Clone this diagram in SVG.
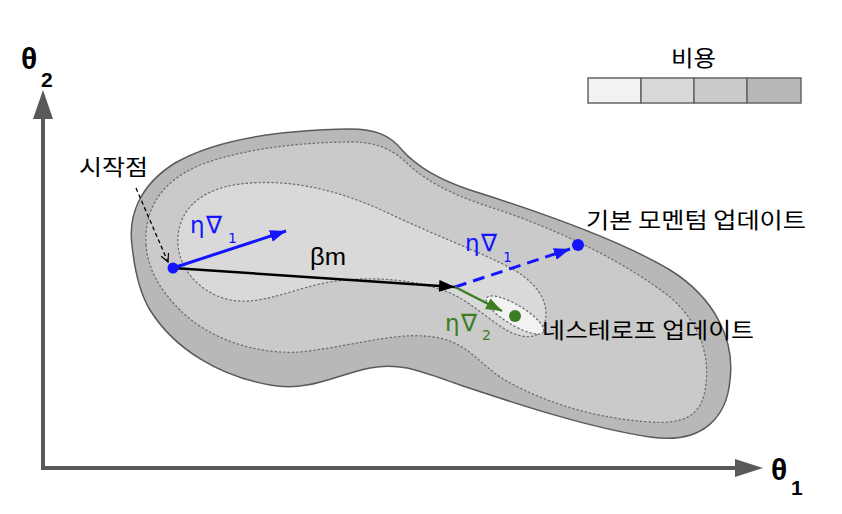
<svg xmlns="http://www.w3.org/2000/svg" width="842" height="514" viewBox="0 0 842 514">
<style>
.ko{font-family:"Noto Sans CJK KR","Liberation Sans",sans-serif;font-size:22px;fill:#000}
.gr{font-family:"DejaVu Sans","Liberation Sans",sans-serif;font-size:24px}
.eta{font-size:23px}
.sub{font-size:14px}
.ax{font-family:"Liberation Sans",Arial,sans-serif;font-weight:bold;fill:#000}
.dot{stroke:#6e6e6e;stroke-width:1.3;stroke-dasharray:1.3 3;stroke-linecap:round}
.cell{stroke:#666;stroke-width:1.5}
</style>
<defs>
<marker id="mb" markerUnits="userSpaceOnUse" markerWidth="18" markerHeight="14" refX="16" refY="6" orient="auto"><path d="M0,0 L16,6 L0,12 Z" fill="#1414ff"/></marker>
<marker id="mk" markerUnits="userSpaceOnUse" markerWidth="18" markerHeight="14" refX="16" refY="6" orient="auto"><path d="M0,0 L16,6 L0,12 Z" fill="#000"/></marker>
<marker id="mg" markerUnits="userSpaceOnUse" markerWidth="18" markerHeight="14" refX="16" refY="6" orient="auto"><path d="M0,0 L16,6 L0,12 Z" fill="#3b7d23"/></marker>
<marker id="mo" markerUnits="userSpaceOnUse" markerWidth="10" markerHeight="10" refX="8" refY="4" orient="auto"><path d="M0,0 L8,4 L0,8" fill="none" stroke="#000" stroke-width="1.2"/></marker>
</defs>
<rect width="842" height="514" fill="#fff"/>

<g id="cost-surface">
<path d="M132,245 C128,215 140,185 175,163 C215,140 280,130 350,129 C375,129 390,135 402,150 C418,168 440,180 470,190 C540,212 620,240 670,270 C715,298 735,340 730,380 C727,415 705,445 650,437 C590,428 520,405 460,385 C420,371 400,362 370,368 C335,375 310,392 270,385 C220,376 175,350 150,310 C138,290 134,265 132,245 Z" fill="#b8b8b8" stroke="#5a5a5a" stroke-width="1.5"/>
<path class="dot" d="M146,245 C144,210 160,182 200,165 C245,148 305,142 352,142 C380,142 396,152 410,166 C428,182 455,196 490,207 C560,230 625,262 670,297 C702,325 712,360 704,395 C698,418 680,424 650,422 C590,418 540,400 505,380 C480,365 470,345 440,338 C400,330 360,345 300,352 C250,355 205,335 180,310 C160,290 148,270 146,245 Z" fill="#cacaca"/>
<path class="dot" d="M178,245 C176,215 195,190 240,184 C290,178 340,190 390,214 C430,233 470,248 505,265 C535,280 550,300 545,322 C542,337 530,340 512,333 C490,322 470,300 445,291 C410,278 360,275 320,284 C285,292 260,305 230,300 C200,293 180,270 178,245 Z" fill="#d9d9d9"/>
<ellipse class="dot" cx="515" cy="315" rx="33" ry="10" transform="rotate(31 515 315)" fill="#f2f2f2"/>
</g>

<g id="axes">
<line x1="43" y1="470" x2="43" y2="115" stroke="#595959" stroke-width="4"/>
<polygon points="43,90 33,119 53,119" fill="#595959"/>
<line x1="41" y1="468" x2="738" y2="468" stroke="#595959" stroke-width="4"/>
<polygon points="763,468 735,459 735,477" fill="#595959"/>
<text class="ax" x="21" y="69" font-size="30">θ</text>
<text class="ax" x="41" y="87" font-size="21">2</text>
<text class="ax" x="771" y="480" font-size="30">θ</text>
<text class="ax" x="791" y="495" font-size="21">1</text>
</g>

<g id="legend">
<text class="ko" x="671" y="66" textLength="45" lengthAdjust="spacingAndGlyphs">비용</text>
<rect class="cell" x="588" y="78" width="53" height="25" fill="#f2f2f2"/>
<rect class="cell" x="641" y="78" width="53" height="25" fill="#d9d9d9"/>
<rect class="cell" x="694" y="78" width="53" height="25" fill="#cacaca"/>
<rect class="cell" x="747" y="78" width="54" height="25" fill="#b8b8b8"/>
</g>

<g id="connectors">
<line x1="136" y1="188" x2="168" y2="262" stroke="#000" stroke-width="1.3" stroke-dasharray="4 3" marker-end="url(#mo)"/>
<line x1="173" y1="268" x2="455" y2="287" stroke="#000" stroke-width="2.5" marker-end="url(#mk)"/>
<line x1="173" y1="268" x2="286" y2="231" stroke="#1414ff" stroke-width="3" marker-end="url(#mb)"/>
<line x1="455" y1="287" x2="570" y2="249" stroke="#1414ff" stroke-width="3" stroke-dasharray="12 7" marker-end="url(#mb)"/>
<line x1="455" y1="287" x2="502" y2="311" stroke="#3b7d23" stroke-width="2.5" marker-end="url(#mg)"/>
</g>

<g id="start">
<circle cx="173" cy="268" r="5.5" fill="#1414ff"/>
<text class="ko" x="79" y="175" textLength="69" lengthAdjust="spacingAndGlyphs">시작점</text>
<text class="gr" fill="#1414ff"><tspan class="eta" x="190" y="233">η</tspan><tspan x="206" y="233">∇</tspan><tspan class="sub" x="228" y="243">1</tspan></text>
<text x="310" y="265" font-family="Liberation Sans, Arial, sans-serif" font-size="23" fill="#000" textLength="36" lengthAdjust="spacingAndGlyphs">βm</text>
</g>

<g id="momentum-update">
<circle cx="578" cy="245" r="6" fill="#1414ff"/>
<text class="gr" fill="#1414ff"><tspan class="eta" x="465" y="251">η</tspan><tspan x="481" y="251">∇</tspan><tspan class="sub" x="503" y="262">1</tspan></text>
<text class="ko" x="586" y="228" textLength="220" lengthAdjust="spacingAndGlyphs">기본 모멘텀 업데이트</text>
</g>

<g id="nesterov-update">
<circle cx="515" cy="316" r="6" fill="#3b7d23"/>
<text class="gr" fill="#3b7d23"><tspan class="eta" x="445" y="331">η</tspan><tspan x="461" y="331">∇</tspan><tspan class="sub" x="482" y="340">2</tspan></text>
<text class="ko" x="542" y="338" textLength="212" lengthAdjust="spacingAndGlyphs">네스테로프 업데이트</text>
</g>
</svg>
